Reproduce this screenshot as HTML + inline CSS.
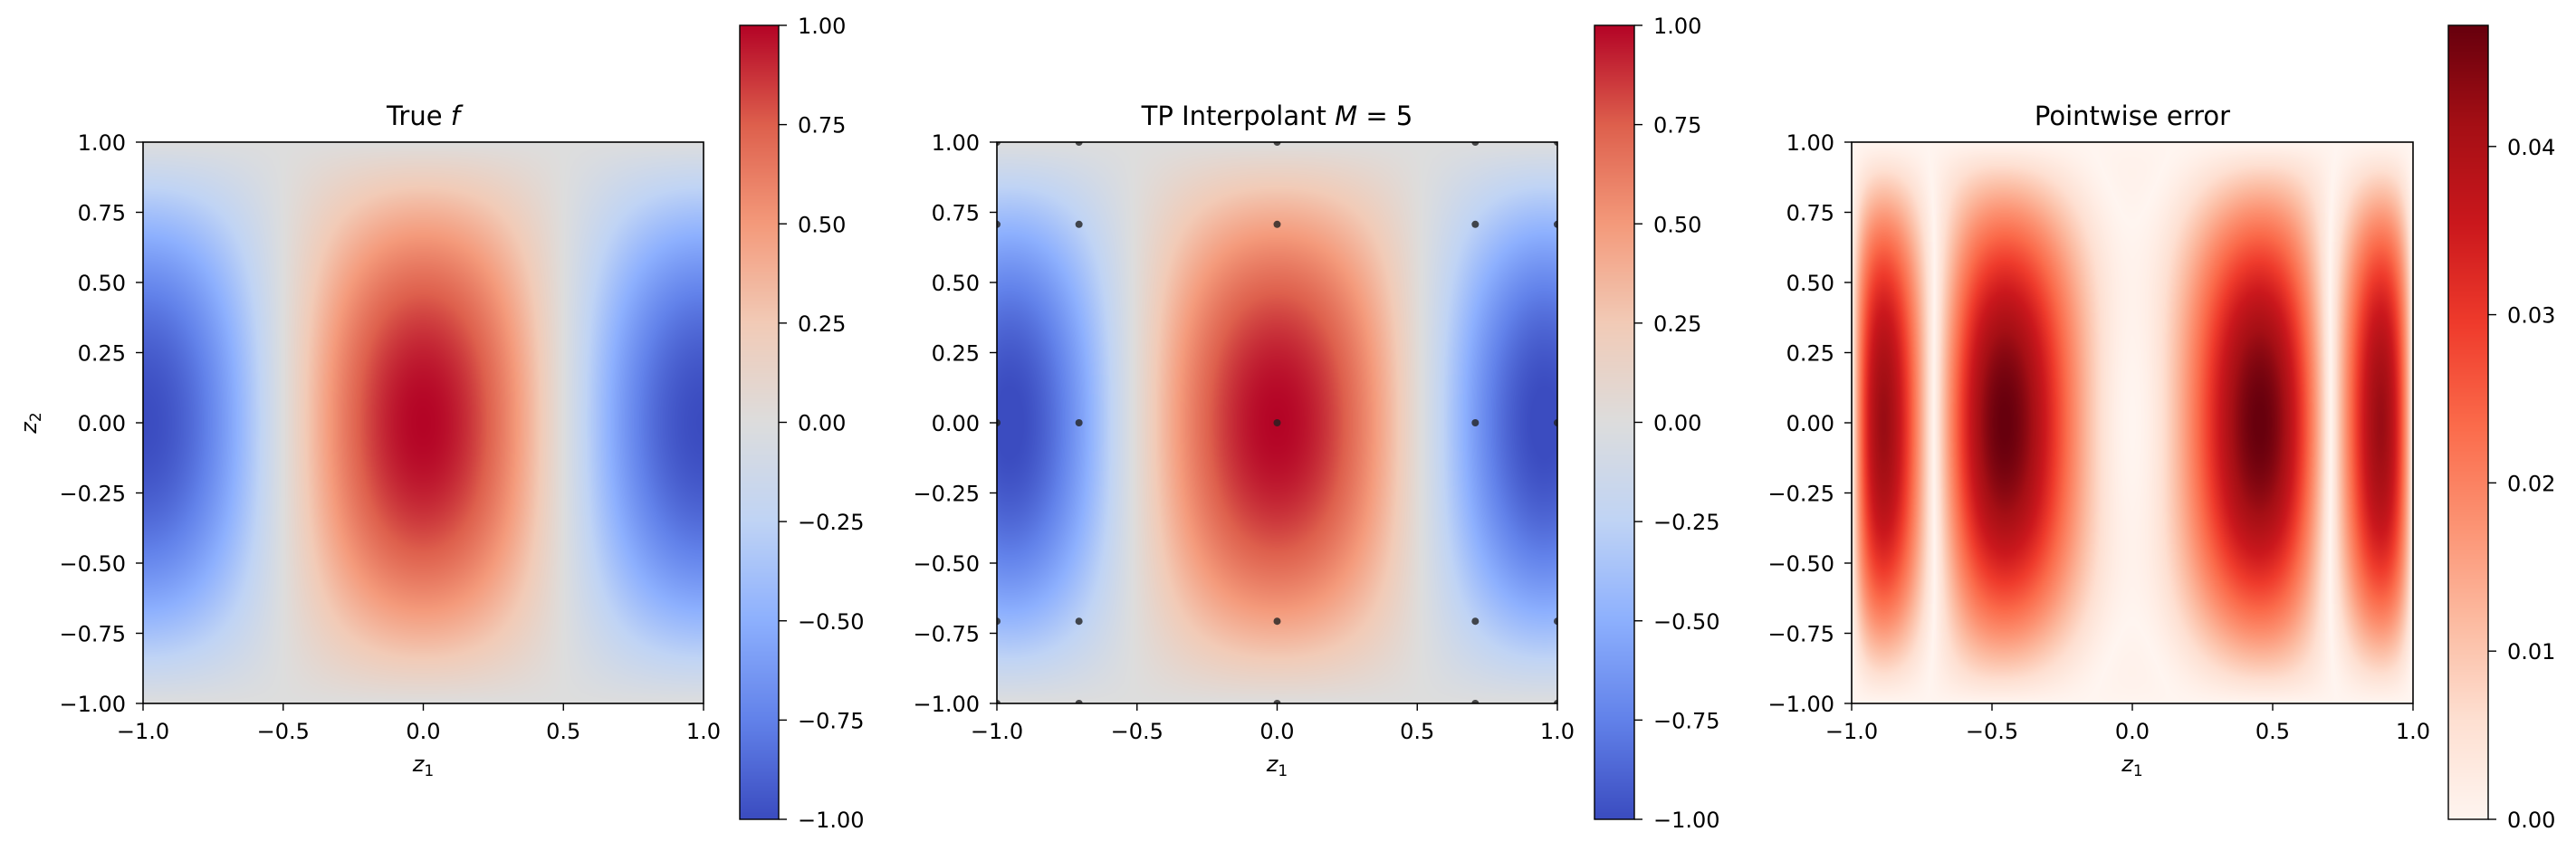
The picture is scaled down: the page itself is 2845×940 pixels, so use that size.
<!DOCTYPE html>
<html><head><meta charset="utf-8">
<style>
html,body{margin:0;padding:0;background:#fff;}
#wrap{position:relative;width:2845px;height:940px;overflow:hidden;font-family:"DejaVu Sans","Liberation Sans",sans-serif;}
canvas{position:absolute;}
svg{position:absolute;left:0;top:0;}
</style></head>
<body>
<div id="wrap">
<canvas id="c1"></canvas>
<canvas id="c2"></canvas>
<canvas id="c3"></canvas>
<canvas id="cb1"></canvas>
<canvas id="cb2"></canvas>
<canvas id="cb3"></canvas>
<svg id="ov" width="2845" height="940"></svg>
</div>
<script>
// ---- data ----
const nodes = [-1, -0.7071, 0, 0.7071, 1];          // Chebyshev interpolation nodes (M=5)
const axisTicks = [-1.0, -0.5, 0.0, 0.5, 1.0];
const axisTickLabels = ["−1.0", "−0.5", "0.0", "0.5", "1.0"];
const yTicks = [-1, -0.75, -0.5, -0.25, 0, 0.25, 0.5, 0.75, 1];
const yTickLabels = ["−1.00","−0.75","−0.50","−0.25","0.00","0.25","0.50","0.75","1.00"];
const cbDivTicks = [-1, -0.75, -0.5, -0.25, 0, 0.25, 0.5, 0.75, 1];
const cbDivLabels = ["−1.00","−0.75","−0.50","−0.25","0.00","0.25","0.50","0.75","1.00"];
const errTicks = [0, 0.01, 0.02, 0.03, 0.04];
const errTickLabels = ["0.00","0.01","0.02","0.03","0.04"];
const errMax = [0.0472];
const titles = ["True ", "TP Interpolant ", "Pointwise error"];

// ---- layout ----
const AX = [[158,777],[1101,1720],[2045,2665]];
const AY = [157,777];
const CB = [[817,860],[1761,1805],[2704,2748]];
const CBY = [28,905];
const FS = 24;

function f(x,y){return Math.cos(Math.PI*x)*Math.cos(Math.PI*y/2);}
function lag(x,j){let p=1;for(let k=0;k<nodes.length;k++){if(k!==j)p*=(x-nodes[k])/(nodes[j]-nodes[k]);}return p;}
function interp(x,y){let s=0;const lx=nodes.map((_,j)=>lag(x,j)),ly=nodes.map((_,j)=>lag(y,j));
 for(let i=0;i<nodes.length;i++)for(let j=0;j<nodes.length;j++)s+=f(nodes[i],nodes[j])*lx[i]*ly[j];return s;}

const CW=[[0,59,76,192],[0.125,98,130,234],[0.25,141,176,254],[0.375,192,212,245],[0.5,221,221,221],[0.625,242,203,183],[0.75,244,154,123],[0.875,222,96,77],[1,180,4,38]];
const RD=[[0,255,245,240],[0.125,254,224,210],[0.25,252,187,161],[0.375,252,146,114],[0.5,251,106,74],[0.625,239,59,44],[0.75,203,24,29],[0.875,165,15,21],[1,103,0,13]];
function cmap(m,t){t=Math.max(0,Math.min(1,t));for(let i=1;i<m.length;i++){if(t<=m[i][0]){const a=m[i-1],b=m[i],u=(t-a[0])/(b[0]-a[0]);return [a[1]+u*(b[1]-a[1]),a[2]+u*(b[2]-a[2]),a[3]+u*(b[3]-a[3])];}}return m[m.length-1].slice(1);}

function heat(id,k,fn,m,lo,hi){
 const c=document.getElementById(id),w=AX[k][1]-AX[k][0],h=AY[1]-AY[0];
 c.width=w;c.height=h;c.style.left=AX[k][0]+'px';c.style.top=AY[0]+'px';
 const ctx=c.getContext('2d'),im=ctx.createImageData(w,h);
 for(let py=0;py<h;py++){const y=1-2*(py+0.5)/h;for(let px=0;px<w;px++){const x=-1+2*(px+0.5)/w;
  const col=cmap(m,(fn(x,y)-lo)/(hi-lo)),o=(py*w+px)*4;im.data[o]=col[0];im.data[o+1]=col[1];im.data[o+2]=col[2];im.data[o+3]=255;}}
 ctx.putImageData(im,0,0);
}
function cbar(id,k,m){
 const c=document.getElementById(id),w=CB[k][1]-CB[k][0],h=CBY[1]-CBY[0];
 c.width=w;c.height=h;c.style.left=CB[k][0]+'px';c.style.top=CBY[0]+'px';
 const ctx=c.getContext('2d');
 for(let py=0;py<h;py++){const col=cmap(m,1-(py+0.5)/h);ctx.fillStyle=`rgb(${col[0]|0},${col[1]|0},${col[2]|0})`;ctx.fillRect(0,py,w,1);}
}
heat('c1',0,f,CW,-1,1);
heat('c2',1,interp,CW,-1,1);
heat('c3',2,(x,y)=>Math.abs(f(x,y)-interp(x,y)),RD,0,errMax[0]);
cbar('cb1',0,CW);cbar('cb2',1,CW);cbar('cb3',2,RD);

const NS='http://www.w3.org/2000/svg',ov=document.getElementById('ov');
function el(tag,attrs,parent){const e=document.createElementNS(NS,tag);for(const a in attrs)e.setAttribute(a,attrs[a]);(parent||ov).appendChild(e);return e;}
function txt(s,attrs){const e=el('text',Object.assign({'font-size':FS,fill:'#000'},attrs));e.textContent=s;return e;}

for(let k=0;k<3;k++){
 const x0=AX[k][0],x1=AX[k][1],sx=v=>x0+(v+1)/2*(x1-x0),sy=v=>AY[1]-(v+1)/2*(AY[1]-AY[0]);
 if(k===1){
  const g=el('g',{});
  
  
  el('clipPath',{id:'clp'},g);
  el('rect',{x:x0,y:AY[0],width:x1-x0,height:AY[1]-AY[0]},g.lastChild);
  for(const a of nodes)for(const b of nodes){
   const d=el('circle',{cx:sx(a),cy:sy(b),r:4,fill:'#222','fill-opacity':0.8,'clip-path':'url(#clp)'},g);
   
   
  }
 }
 const fr=el('rect',{x:x0,y:AY[0],width:x1-x0,height:AY[1]-AY[0],fill:'none',stroke:'#000','stroke-width':1.6});
 
 
 axisTicks.forEach((v,i)=>{
  el('line',{x1:sx(v),x2:sx(v),y1:AY[1],y2:AY[1]+8,stroke:'#000','stroke-width':1.4});
  const t=txt(axisTickLabels[i],{x:sx(v),y:AY[1]+39,'text-anchor':'middle'});
  
  
 });
 yTicks.forEach((v,i)=>{
  el('line',{x1:x0-8,x2:x0,y1:sy(v),y2:sy(v),stroke:'#000','stroke-width':1.4});
  const t=txt(yTickLabels[i],{x:x0-19,y:sy(v)+9,'text-anchor':'end'});
  
  
 });
 const cx=(x0+x1)/2;
 const ti=txt('',{x:cx,y:138,'text-anchor':'middle','font-size':29});
 
 
 if(k===0){ti.innerHTML='True <tspan font-style="italic">f</tspan>';}
 else if(k===1){ti.innerHTML='TP Interpolant <tspan font-style="italic">M</tspan> = 5';}
 else ti.textContent=titles[2];
 const xl=txt('',{x:cx,y:852,'text-anchor':'middle','font-style':'italic'});
 xl.innerHTML='z<tspan font-size="17" font-style="normal" dy="5">1</tspan>';
 
 
 // colorbar
 const c0=CB[k][0],c1=CB[k][1],cy=v=>CBY[1]-v*(CBY[1]-CBY[0]);
 const cf=el('rect',{x:c0,y:CBY[0],width:c1-c0,height:CBY[1]-CBY[0],fill:'none',stroke:'#000','stroke-width':1.4});
 
 
 const tv=k<2?cbDivTicks:errTicks,tl=k<2?cbDivLabels:errTickLabels;
 tv.forEach((v,i)=>{
  const p=k<2?cy((v+1)/2):cy(v/errMax[0]);
  el('line',{x1:c1,x2:c1+9,y1:p,y2:p,stroke:'#000','stroke-width':1.4});
  const t=txt(tl[i],{x:c1+21,y:p+9});
  
  
 });
}
const yl=txt('',{x:0,y:0,'font-style':'italic',transform:'translate(40,467) rotate(-90)','text-anchor':'middle'});
yl.innerHTML='z<tspan font-size="17" font-style="normal" dy="5">2</tspan>';


</script>
</body></html>
